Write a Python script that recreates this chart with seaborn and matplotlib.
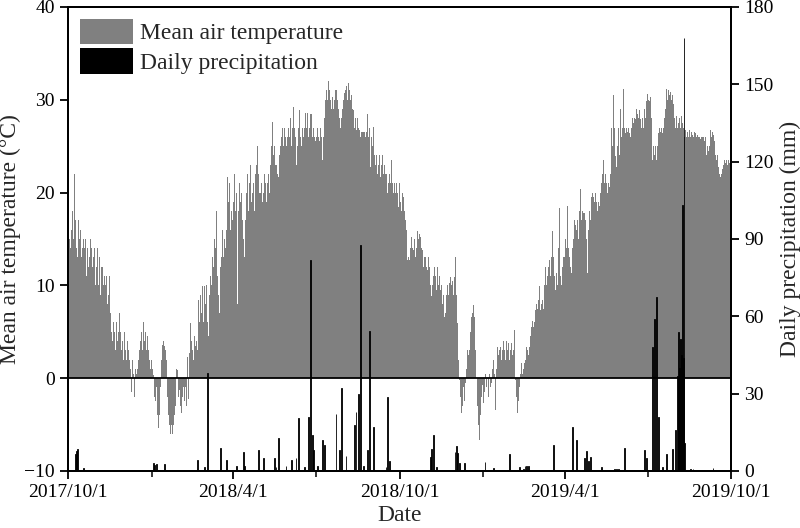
import numpy as np
import pandas as pd
import seaborn as sns
import matplotlib
matplotlib.use("Agg")
import matplotlib.pyplot as plt
from matplotlib.patches import Patch

# -------------------------
# Data
# -------------------------
start_date = "2017-10-01"
end_date = "2019-10-01"

# daily mean air temperature (deg C), 2017-10-01 .. 2019-09-30, one row per month
temp_c = [
    # 2017 Oct
    15, 21, 15, 14, 16, 18, 15, 22, 17, 14, 13, 15, 17, 15, 16, 13, 14, 15, 14, 15, 11, 14, 14, 12, 13, 15, 14, 12, 13, 14, 10,
    # Nov
    12, 14, 11, 10, 13, 9, 12, 12, 10, 11, 10, 11, 8, 10, 9, 11, 7, 5, 4, 6, 5, 3, 6, 4, 2, 5, 7, 5, 3, 4,
    # Dec
    2, 5, 3, 2, 4, 1, 3, 2, 1, -1.5, 2, 0.5, -2, 1, 0.5, 2, 1, 2, 3, 4, 5, 3, 6, 4, 5, 3, 4, 4.5, 3, 2, 1,
    # 2018 Jan
    2, 1, 0.3, -2, -2.5, -1, -3, -4, -5.4, -4, -1, 2, 3.6, 4, 3.5, 3, 2, 0, -2, -4, -5, -6, -5, -6, -5, -4, -3, 1, -1, 0.9, -2,
    # Feb
    -1.3, -3, -3.8, -2, -1, -2.5, -1, -3, 0.5, 2.3, -2.2, 2.7, 5.9, 4, 3, 2, 4.5, 3.5, 4, 4.5, 3, 8.4, 6, 9, 7, 9.9, 6, 9.9,
    # Mar
    8, 10, 7, 6, 4.5, 9, 11, 10, 13, 12, 15, 14, 18, 13, 11, 9, 7, 12, 13, 16, 13, 15, 14, 16, 17, 21.7, 19, 21, 16, 18, 17,
    # Apr
    19, 22, 18, 20, 16, 8, 18, 21, 19, 20, 17, 15, 13, 17, 20, 19, 22, 18, 21, 23, 19, 20, 21, 18, 22, 23, 21, 25, 22, 20,
    # May
    20, 21, 19, 20, 22, 21, 19, 20, 21, 22, 20, 23, 25, 27.6, 24, 25, 23, 25, 23, 22, 21.7, 24, 25, 26, 27, 25, 27, 26, 27, 25, 26,
    # Jun
    27, 26, 28, 25, 27, 29.2, 27, 26, 22.4, 23, 25, 27, 28.9, 26, 25, 27, 26, 27, 28.6, 28.9, 27, 28.6, 26, 27, 28.5, 28.5, 26, 27, 26, 25.6,
    # Jul
    27, 26, 27, 26, 25.6, 27, 26, 23.5, 26, 28, 30, 32.1, 31, 30, 32, 31, 30, 29, 30.3, 29, 30, 31, 32.3, 31, 30, 29, 28, 27, 28, 29, 30,
    # Aug
    30.7, 31, 30, 31.5, 30, 31.8, 31, 30, 30.5, 29, 28.9, 27, 28, 27, 26.7, 28, 27, 26.7, 26, 26.5, 26.5, 26.5, 26.5, 26, 26.5, 26.5, 28.5, 26, 27, 22.8, 26,
    # Sep
    25, 27.1, 24, 23, 25, 24, 22, 23, 24, 21.7, 23, 24, 22, 23, 22, 21, 22, 20, 21, 22, 21, 23.5, 21, 20, 21, 20, 19, 21, 20, 18.4,
    # Oct
    21, 19, 18, 20, 19.5, 18, 17, 17.4, 16, 12.7, 13, 12.7, 14, 15.2, 14, 13.8, 15, 14, 13, 14, 15.9, 15, 15.5, 15.2, 14, 13.8, 12, 13, 11.6, 13, 12,
    # Nov
    11.6, 13, 12, 10, 8.8, 10, 11, 12, 10, 11, 9.5, 12, 10, 11, 9.5, 10, 8, 9, 6.6, 8.8, 7, 9, 10, 9, 10.2, 10.9, 10, 10.5, 9, 10.9,
    # Dec
    11, 13.1, 9, 5.9, 2, -0.2, -2, -3.8, -3, -1, -2.5, -1, -0.5, 1, 3, 2.5, 3, 5, 6.6, 7, 7.9, 6.6, 5, 3, 0, -3, -5, -6.7, -4, -2, -0.7,
    # 2019 Jan
    -2.7, -1.5, -2, 0.5, -1, 0, -2, 0.5, -1, -0.5, 1, 2, 0.5, -1.5, -3.4, 1, 3.4, 2.5, 3, 3.4, 2, 3, 4, 3, 3.5, 2, 4, 3, 3.8, 2, 3,
    # Feb
    3.8, 2.5, 3, 5.2, 4, -0.2, -2, -3.8, -2.5, -1, 0.5, 1.6, 0.5, 1, 1.6, 2.5, 2, 3.4, 3, 2.5, 3.4, 4.5, 5.5, 6.2, 5.5, 6, 5, 7.3,
    # Mar
    8, 7.5, 8.4, 9.9, 7.3, 8, 8.4, 7.5, 10, 11, 12, 10, 11, 12, 12.7, 11, 13, 15.8, 13, 12, 11, 9.5, 11.3, 10, 14, 18.3, 11, 10, 12, 13, 11.3,
    # Apr
    13, 15, 14, 18.6, 14, 13, 12, 11.3, 14, 15, 16.3, 17, 16.5, 16, 17, 15, 18, 20.4, 17, 18, 17.8, 17, 17.8, 17, 15, 11.3, 16, 18, 17, 19.5,
    # May
    20, 19.5, 20.2, 19, 20, 19, 18, 19, 18.5, 20, 21, 22, 23.5, 22, 21, 22, 21, 20, 21, 20.6, 22, 27, 25, 30.5, 28, 27, 23.9, 22.8, 25, 27, 24,
    # Jun
    29, 26, 27, 31.2, 28, 27, 26.4, 27, 26.5, 27, 26.4, 26, 27, 28, 27.5, 28.9, 28, 27.9, 29, 28.5, 28, 28.9, 27.9, 27, 28, 27, 28, 29, 28, 29.9,
    # Jul
    30.6, 30, 29.9, 30.3, 28, 23.5, 25, 26.7, 24, 25, 23.5, 25, 26.4, 27, 26.5, 27, 26.4, 27, 26.5, 28, 29, 31.2, 30, 31, 30.5, 30.8, 30, 30.5, 29.5, 29.9, 28,
    # Aug
    27, 28.2, 27, 27.5, 28, 27, 28.2, 27.5, 27, 28, 26, 26.7, 26, 26.5, 26, 26.7, 26, 26.5, 26.2, 26.7, 26, 26.5, 26.4, 26, 26.2, 26, 26, 25.8, 26, 26, 25.5,
    # Sep
    26, 25.5, 26, 24, 25, 24.5, 25, 26.7, 26, 26.5, 26, 26.2, 25.5, 24, 23.5, 24, 22.8, 22, 21.7, 22, 22.5, 22, 23, 23.5, 23.2, 23.5, 23, 23.5, 23.2, 23.5,
]

# rainy days: day index since 2017-10-01 and daily total (mm)
rain_day = [8, 9, 10, 17, 74, 90, 94, 95, 97, 106, 118, 143, 150, 154, 168, 174, 185, 193, 194,
            210, 215, 227, 229, 232, 240, 246, 251, 254, 260, 265, 267, 269, 270, 275, 280, 282,
            295, 299, 301, 306, 315, 317, 320, 322, 325, 330, 332, 336, 350, 352, 354,
            399, 400, 402, 406, 426, 428, 429, 431, 436, 459, 468, 486, 497, 501, 503, 505, 507,
            534, 555, 560, 569, 571, 573, 575, 587, 602, 604, 606, 613, 635, 637,
            643, 646, 648, 650, 654, 659, 665, 669, 671, 672, 673, 674, 675, 676, 677, 678, 679,
            685, 688, 710]
rain_mm = [6.5, 7.8, 8.4, 1.0, 0.4, 0.3, 3.0, 2.5, 2.8, 2.7, 0.3, 4.2, 1.5, 38, 8.8, 4.2, 1.9, 7.5, 2.0,
           8.2, 5.0, 5.0, 1.5, 12.8, 2.0, 4.2, 5.0, 20.5, 1.5, 21, 82, 14, 8, 2.0, 12, 10,
           22, 8, 32, 6, 18, 23, 30, 87.7, 2.0, 8, 54.3, 17, 1.5, 28.7, 4,
           5.5, 8.5, 14, 1.7, 7.5, 9.5, 7, 3, 3, 3.5, 1, 6.5, 1.7, 0.7, 2, 2, 2,
           10, 17, 12, 5, 7.8, 4, 5.5, 1.7, 0.6, 0.6, 0.6, 9, 8, 5,
           48, 59, 67.5, 21, 1.7, 6.7, 8.5, 16, 37, 54, 40, 51, 45, 103, 44, 168, 11,
           0.6, 0.6, 1.2]

major_dates = ["2017-10-01", "2018-04-01", "2018-10-01", "2019-04-01", "2019-10-01"]
major_labels = ["2017/10/1", "2018/4/1", "2018/10/1", "2019/4/1", "2019/10/1"]
minor_dates = ["2018-01-01", "2018-07-01", "2019-01-01", "2019-07-01"]

# -------------------------
# Frame
# -------------------------
t0 = pd.Timestamp(start_date)
n_days = (pd.Timestamp(end_date) - t0).days
days = np.arange(len(temp_c))
rain_full = np.zeros(len(temp_c))
rain_full[rain_day] = rain_mm
df = pd.DataFrame({"day": days, "temp": temp_c, "rain": rain_full})

sns.set_style("ticks")
plt.rcParams["font.family"] = ["Liberation Serif", "DejaVu Serif"]

fig = plt.figure(figsize=(8, 5.28), dpi=100)
ax = fig.add_axes([0.085, 0.108, 0.829, 0.879])

sns.barplot(data=df, x="day", y="temp", native_scale=True, width=1.0,
            color="#808080", saturation=1, errorbar=None, linewidth=0, ax=ax)
ax.axhline(0, color="black", lw=1.3, zorder=5)

ax2 = ax.twinx()
sns.barplot(data=df, x="day", y="rain", native_scale=True, width=1.0,
            color="black", saturation=1, errorbar=None, linewidth=0.6,
            edgecolor="black", ax=ax2)

ax.set_xlim(0, n_days)
ax.set_ylim(-10, 40)
ax.set_yticks([-10, 0, 10, 20, 30, 40])
ax2.set_ylim(0, 180)
ax2.set_yticks(range(0, 181, 30))

ax.set_xticks([(pd.Timestamp(d) - t0).days for d in major_dates])
ax.set_xticklabels(major_labels)
ax.set_xticks([(pd.Timestamp(d) - t0).days for d in minor_dates], minor=True)

for a in (ax, ax2):
    a.tick_params(axis="both", which="major", direction="out", length=6, width=1.3,
                  labelsize=14, colors="black")
    a.tick_params(axis="x", which="minor", direction="out", length=4, width=1.3)
    for s in a.spines.values():
        s.set_linewidth(1.4)
        s.set_color("black")

ax.set_xlabel("Date", fontsize=17, labelpad=3)
ax.set_ylabel("Mean air temperature (\u00b0C)", fontsize=17, labelpad=2)
ax2.set_ylabel("Daily precipitation (mm)", fontsize=17, labelpad=4)

handles = [Patch(facecolor="#808080", edgecolor="none", label="Mean air temperature"),
           Patch(facecolor="black", edgecolor="none", label="Daily precipitation")]
ax2.legend(handles=handles, loc="upper left", frameon=False, fontsize=17,
           handlelength=2.25, handleheight=1.3, labelspacing=0.15,
           handletextpad=0.3, borderaxespad=0.3, borderpad=0.2)

fig.savefig("out.png", dpi=100)
